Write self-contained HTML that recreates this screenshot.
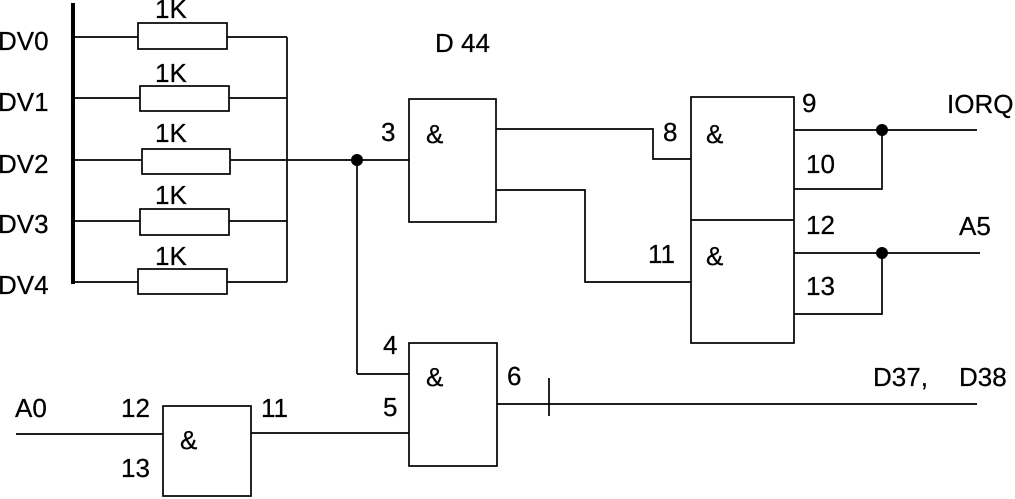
<!DOCTYPE html>
<html><head><meta charset="utf-8"><style>
html,body{margin:0;padding:0;background:#fff;}
svg{display:block;}
text{font-family:"Liberation Sans",Arial,sans-serif;font-size:26px;fill:#000;stroke:#000;stroke-width:0.25;}
</style></head><body>
<svg width="1015" height="499" viewBox="0 0 1015 499" xmlns="http://www.w3.org/2000/svg">
<g stroke="#000" stroke-width="1.7" fill="none">
<!-- bus -->
<line x1="73" y1="3" x2="73" y2="284" stroke-width="4"/>
<!-- resistor rows -->
<line x1="73" y1="37" x2="138" y2="37"/>
<rect x="138" y="23" width="89" height="26" fill="#fff"/>
<line x1="227" y1="37" x2="287" y2="37"/>

<line x1="73" y1="98" x2="140" y2="98"/>
<rect x="140" y="86" width="89" height="25" fill="#fff"/>
<line x1="229" y1="98" x2="287" y2="98"/>

<line x1="73" y1="160" x2="142" y2="160"/>
<rect x="142" y="149" width="88" height="25" fill="#fff"/>
<line x1="230" y1="160" x2="409" y2="160"/>

<line x1="73" y1="221" x2="140" y2="221"/>
<rect x="140" y="209" width="89" height="26" fill="#fff"/>
<line x1="229" y1="221" x2="287" y2="221"/>

<line x1="73" y1="282" x2="138" y2="282"/>
<rect x="138" y="269" width="89" height="25" fill="#fff"/>
<line x1="227" y1="282" x2="287" y2="282"/>

<line x1="287" y1="37" x2="287" y2="282"/>

<!-- gate D44 top -->
<rect x="409" y="99" width="87" height="123"/>
<line x1="357" y1="160" x2="357" y2="374"/>
<line x1="357" y1="374" x2="409" y2="374"/>
<polyline points="496,129 653,129 653,159 691,159"/>
<polyline points="496,190 585,190 585,282 691,282"/>

<!-- right gate pair -->
<rect x="691" y="97" width="103" height="246"/>
<line x1="691" y1="220" x2="794" y2="220"/>
<line x1="794" y1="130" x2="977" y2="130"/>
<polyline points="794,189 882,189 882,130"/>
<line x1="794" y1="253" x2="980" y2="253"/>
<polyline points="794,314 882,314 882,253"/>

<!-- gate 4/5/6 -->
<rect x="409" y="343" width="88" height="123"/>
<line x1="497" y1="404" x2="977" y2="404"/>
<line x1="549" y1="378" x2="549" y2="416"/>
<line x1="251" y1="433" x2="409" y2="433"/>

<!-- small gate -->
<rect x="163" y="406" width="88" height="90"/>
<line x1="16" y1="434" x2="163" y2="434"/>
</g>
<g fill="#000">
<circle cx="357" cy="160" r="6"/>
<circle cx="882" cy="130" r="6"/>
<circle cx="882" cy="253" r="6"/>
</g>

<text x="-2" y="50">DV0</text>
<text x="-2" y="111">DV1</text>
<text x="-2" y="173">DV2</text>
<text x="-2" y="233">DV3</text>
<text x="-2" y="294">DV4</text>

<text x="155" y="18">1K</text>
<text x="155" y="82">1K</text>
<text x="155" y="142">1K</text>
<text x="155" y="204">1K</text>
<text x="155" y="265">1K</text>

<text x="435" y="52">D 44</text>
<text x="381" y="141">3</text>
<text x="426" y="143">&amp;</text>
<text x="663" y="141">8</text>
<text x="648" y="263">11</text>
<text x="706" y="143">&amp;</text>
<text x="706" y="265">&amp;</text>
<text x="802" y="112">9</text>
<text x="806" y="173">10</text>
<text x="806" y="234">12</text>
<text x="806" y="295">13</text>
<text x="947" y="113">IORQ</text>
<text x="959" y="235">A5</text>

<text x="383" y="354">4</text>
<text x="383" y="416">5</text>
<text x="426" y="386">&amp;</text>
<text x="507" y="385">6</text>
<text x="873" y="386">D37,</text>
<text x="959" y="386">D38</text>

<text x="15" y="417">A0</text>
<text x="121" y="417">12</text>
<text x="121" y="477">13</text>
<text x="261" y="417">11</text>
<text x="180" y="449">&amp;</text>
</svg>
</body></html>
